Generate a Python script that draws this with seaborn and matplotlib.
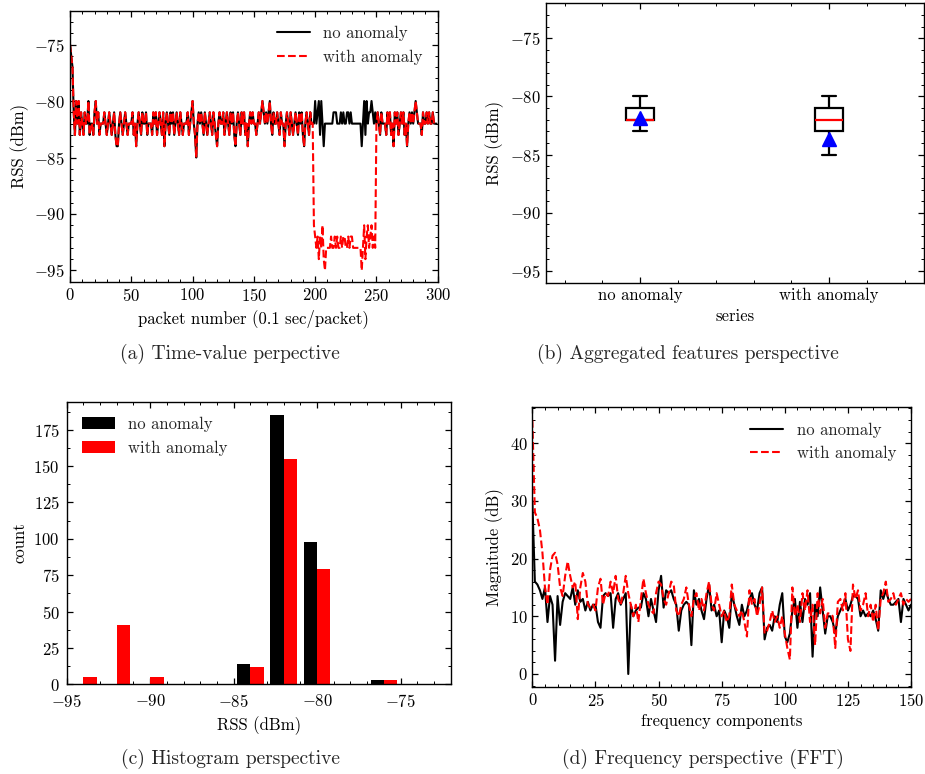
import numpy as np
import pandas as pd
import matplotlib
matplotlib.use("Agg")
import matplotlib.pyplot as plt
from matplotlib.ticker import MultipleLocator, AutoMinorLocator
import seaborn as sns

# ---------------------------------------------------------------------------
# RSS trace (dBm), one value per packet, link without anomaly
# ---------------------------------------------------------------------------
rss_no_anomaly = [
    -75, -76, -77, -81, -83, -80, -82, -80, -83, -81,
    -82, -83, -81, -82, -82, -80, -83, -82, -82, -83,
    -81, -80, -82, -81, -83, -82, -82, -82, -81, -82,
    -83, -82, -81, -82, -83, -82, -81, -83, -84, -84,
    -82, -81, -82, -83, -82, -81, -82, -83, -82, -82,
    -82, -81, -83, -82, -84, -82, -81, -82, -83, -81,
    -82, -82, -81, -83, -82, -82, -82, -83, -81, -82,
    -81, -83, -82, -81, -82, -83, -81, -84, -82, -81,
    -82, -83, -81, -82, -81, -83, -82, -81, -82, -83,
    -81, -82, -83, -82, -82, -82, -81, -83, -82, -81,
    -80, -82, -83, -85, -82, -81, -82, -81, -82, -83,
    -81, -82, -83, -82, -81, -82, -83, -81, -82, -83,
    -84, -82, -81, -82, -82, -81, -83, -82, -81, -82,
    -83, -81, -82, -81, -83, -84, -82, -81, -82, -83,
    -81, -82, -81, -83, -82, -84, -82, -81, -82, -81,
    -82, -82, -83, -82, -81, -82, -81, -80, -81, -82,
    -81, -82, -81, -80, -82, -83, -81, -82, -82, -81,
    -82, -83, -81, -82, -82, -84, -82, -81, -82, -83,
    -81, -82, -83, -82, -81, -82, -83, -81, -82, -81,
    -83, -84, -82, -81, -82, -83, -81, -82, -82, -82,
    -80, -82, -81, -80, -83, -80, -82, -84, -82, -82,
    -82, -82, -82, -82, -82, -81, -81, -81, -82, -82,
    -82, -81, -82, -81, -82, -82, -81, -81, -82, -81,
    -82, -82, -82, -82, -82, -82, -82, -82, -84, -82,
    -80, -83, -80, -82, -81, -81, -80, -81, -82, -81,
    -82, -81, -82, -83, -81, -82, -82, -82, -83, -81,
    -82, -81, -83, -82, -84, -81, -82, -81, -83, -82,
    -81, -82, -81, -83, -82, -84, -82, -81, -82, -81,
    -82, -81, -80, -81, -82, -82, -82, -83, -81, -82,
    -82, -81, -82, -81, -82, -82, -81, -82, -82, -82,
]

# RSS during the obstruction (packets 199-249) on the anomalous link
anomaly_start = 199
rss_anomaly_segment = [
    -91, -92, -93, -92, -94, -92, -93, -91, -94, -95,
    -93, -93, -93, -93, -92, -93, -93, -92, -93, -92,
    -93, -93, -92, -93, -92, -92, -93, -93, -92, -93,
    -92, -92, -93, -93, -93, -93, -93, -93, -93, -95,
    -93, -91, -94, -92, -91, -93, -92, -91, -93, -92,
    -93,
]

rss_with_anomaly = list(rss_no_anomaly)
rss_with_anomaly[anomaly_start:anomaly_start + len(rss_anomaly_segment)] = rss_anomaly_segment
packet = np.arange(len(rss_no_anomaly))

# ---------------------------------------------------------------------------
# Histogram counts per 2 dBm bin
# ---------------------------------------------------------------------------
bin_edges = [-95, -93, -91, -89, -87, -85, -83, -81, -79, -77, -75]
bin_centers = [-94, -92, -90, -88, -86, -84, -82, -80, -78, -76]
count_no_anomaly = [0, 0, 0, 0, 0, 14, 185, 98, 0, 3]
count_with_anomaly = [5, 41, 5, 0, 0, 12, 155, 79, 0, 3]

# ---------------------------------------------------------------------------
# FFT magnitude (dB) per frequency component 0..150
# ---------------------------------------------------------------------------
fft_no_anomaly = [
    30, 16, 15.5, 14.5, 13, 15, 9, 13.5, 12, 2.3,
    13.5, 8.5, 12.5, 14, 13.5, 13, 15, 12, 14.5, 12.5,
    13, 11, 12.5, 11, 12, 12, 9, 8, 13.5, 14,
    13.5, 14, 8, 13, 14, 12, 13, 14, 0, 12,
    10, 11, 11.5, 11.5, 14, 13, 10, 13, 11, 9,
    14.5, 17, 11.5, 14.5, 14, 14.5, 13, 12, 7.5, 11,
    12, 12.5, 12, 5, 14.5, 12, 13, 11, 9.5, 13,
    15.5, 11, 12, 10, 11, 5.5, 11, 10, 8, 14,
    12, 10, 8.5, 12, 10, 11, 13, 14, 12, 11,
    14, 15, 6, 8, 8.5, 7.5, 10, 9, 12, 14,
    6.5, 5.5, 7, 11, 13, 8, 12.5, 9, 13, 12,
    14, 3, 12, 10, 15, 11, 7, 10, 10, 9,
    7, 10, 11, 12, 13, 11, 12, 13.5, 13.5, 13,
    10, 11, 10, 10.5, 10, 11, 9.5, 7.5, 14.5, 13,
    14.5, 13, 12, 12, 12.5, 13, 9, 13, 12, 11,
    12,
]
fft_with_anomaly = [
    44, 28, 27, 25, 21, 15, 12, 18, 20.5, 21,
    19, 15, 13.5, 17, 19.5, 17, 15, 16, 9.5, 15,
    17.5, 16, 12, 11.5, 12, 11, 15, 16.5, 12, 14,
    13.5, 16, 14, 17, 13, 12, 14, 17, 14, 12,
    10, 12, 9, 13, 16.5, 14, 12, 11, 10.5, 14,
    16, 15.5, 13, 12, 14, 16, 15.5, 11, 10, 12,
    13, 15, 12, 10, 13, 14, 11, 13, 11, 14,
    16, 12, 11, 14, 12, 10, 11, 9, 10, 15.5,
    12, 11, 10, 11, 9, 6.5, 14.5, 12, 13, 10,
    12, 15, 7, 7.5, 9, 11, 9, 10, 8, 10,
    7, 4.5, 2.5, 15, 10, 12, 9, 14, 11, 14.5,
    9, 12, 5, 14, 10.5, 13, 8, 10.5, 10.5, 10,
    4.5, 12.5, 13, 11, 14, 6, 4, 15.5, 13, 14.5,
    11, 12, 14, 10, 12, 9, 12, 7.5, 13, 14,
    16, 12.5, 13, 14, 12, 13, 14, 12, 13, 12.5,
    13,
]
freq = np.arange(len(fft_no_anomaly))

series_names = ["no anomaly", "with anomaly"]
series_colors = ["black", "red"]

# ---------------------------------------------------------------------------
# Style
# ---------------------------------------------------------------------------
sns.set_theme(style="ticks")
plt.rcParams.update({
    "font.family": "serif",
    "font.serif": ["cmr10"],
    "mathtext.fontset": "cm",
    "axes.formatter.use_mathtext": True,
    "axes.unicode_minus": True,
    "font.size": 12,
    "axes.labelsize": 12,
    "xtick.labelsize": 12,
    "ytick.labelsize": 12,
    "legend.fontsize": 12,
    "axes.linewidth": 1.0,
    "axes.edgecolor": "black",
    "axes.labelcolor": "black",
    "xtick.color": "black",
    "ytick.color": "black",
    "xtick.direction": "in",
    "ytick.direction": "in",
    "xtick.top": True,
    "ytick.right": True,
    "xtick.minor.visible": True,
    "ytick.minor.visible": True,
    "xtick.major.size": 4.5,
    "ytick.major.size": 4.5,
    "xtick.minor.size": 2.3,
    "ytick.minor.size": 2.3,
    "xtick.major.width": 0.9,
    "ytick.major.width": 0.9,
    "xtick.minor.width": 0.7,
    "ytick.minor.width": 0.7,
    "legend.frameon": False,
})

fig = plt.figure(figsize=(9.25, 7.74), dpi=100)
ax_a = fig.add_axes([0.0757, 0.6360, 0.3975, 0.3502])
ax_b = fig.add_axes([0.5900, 0.6348, 0.4085, 0.3609])
ax_c = fig.add_axes([0.0721, 0.1159, 0.4151, 0.3651])
ax_d = fig.add_axes([0.5755, 0.1128, 0.4094, 0.3610])

line_w = 1.5

# (a) time series
sns.lineplot(x=packet, y=rss_no_anomaly, color="black", lw=line_w,
             label="no anomaly", ax=ax_a)
sns.lineplot(x=packet, y=rss_with_anomaly, color="red", lw=line_w,
             linestyle="--", label="with anomaly", ax=ax_a)
ax_a.set_xlim(0, 300)
ax_a.set_ylim(-96, -72)
ax_a.set_xlabel("packet number (0.1 sec/packet)")
ax_a.set_ylabel("RSS (dBm)")
ax_a.xaxis.set_major_locator(MultipleLocator(50))
ax_a.xaxis.set_minor_locator(MultipleLocator(10))
ax_a.yaxis.set_major_locator(MultipleLocator(5))
ax_a.yaxis.set_minor_locator(MultipleLocator(1))
ax_a.legend(loc="upper right", frameon=False)

# (b) box plots
box_df = pd.DataFrame({
    "series": [series_names[0]] * len(rss_no_anomaly) + [series_names[1]] * len(rss_with_anomaly),
    "rss": list(rss_no_anomaly) + list(rss_with_anomaly),
})
sns.boxplot(data=box_df, x="series", y="rss", order=series_names, width=0.15,
            color="white", linecolor="black", linewidth=1.6, showfliers=False,
            showmeans=True,
            meanprops=dict(marker="^", markerfacecolor="blue",
                           markeredgecolor="blue", markersize=10),
            medianprops=dict(color="red", linewidth=1.6),
            ax=ax_b)
ax_b.set_xlim(-0.5, 1.5)
ax_b.set_ylim(-96, -72)
ax_b.set_xlabel("series")
ax_b.set_ylabel("RSS (dBm)")
ax_b.xaxis.set_minor_locator(MultipleLocator(0.2))
ax_b.yaxis.set_major_locator(MultipleLocator(5))
ax_b.yaxis.set_minor_locator(MultipleLocator(1))

# (c) histogram
hist_df = pd.DataFrame({
    "rss": bin_centers * 2,
    "count": count_no_anomaly + count_with_anomaly,
    "series": [series_names[0]] * len(bin_centers) + [series_names[1]] * len(bin_centers),
})
sns.histplot(data=hist_df, x="rss", weights="count", hue="series",
             hue_order=series_names, palette=series_colors, bins=bin_edges,
             multiple="dodge", shrink=0.8, alpha=1, linewidth=0, ax=ax_c)
ax_c.set_xlim(-95, -72)
ax_c.set_ylim(0, 194.25)
ax_c.set_xlabel("RSS (dBm)")
ax_c.set_ylabel("count")
ax_c.xaxis.set_major_locator(MultipleLocator(5))
ax_c.xaxis.set_minor_locator(MultipleLocator(1))
ax_c.yaxis.set_major_locator(MultipleLocator(25))
ax_c.yaxis.set_minor_locator(AutoMinorLocator(2))
ax_c.tick_params(axis="x", which="major", pad=6.5)
ax_c.tick_params(axis="y", which="major", pad=5)
sns.move_legend(ax_c, "upper left", title=None, frameon=False)

# (d) FFT magnitude
sns.lineplot(x=freq, y=fft_no_anomaly, color="black", lw=line_w,
             label="no anomaly", ax=ax_d)
sns.lineplot(x=freq, y=fft_with_anomaly, color="red", lw=line_w,
             linestyle="--", label="with anomaly", ax=ax_d)
ax_d.set_xlim(0, 150)
ax_d.set_ylim(-2.2, 46.2)
ax_d.set_xlabel("frequency components")
ax_d.set_ylabel("Magnitude (dB)")
ax_d.xaxis.set_major_locator(MultipleLocator(25))
ax_d.xaxis.set_minor_locator(MultipleLocator(5))
ax_d.yaxis.set_major_locator(MultipleLocator(10))
ax_d.yaxis.set_minor_locator(MultipleLocator(2))
ax_d.legend(loc="upper right", frameon=False)

for ax in (ax_a, ax_b, ax_c, ax_d):
    for side in ("top", "right", "bottom", "left"):
        ax.spines[side].set_visible(True)
        ax.spines[side].set_color("black")
    ax.tick_params(which="both", top=True, right=True, direction="in")

# Sub-figure captions
caption_size = 14
fig.text(0.2486, 0.5426, "(a) Time-value perpective", ha="center", va="center", fontsize=caption_size)
fig.text(0.7432, 0.5426, "(b) Aggregated features perspective", ha="center", va="center", fontsize=caption_size)
fig.text(0.2486, 0.0194, "(c) Histogram perspective", ha="center", va="center", fontsize=caption_size)
fig.text(0.7600, 0.0194, "(d) Frequency perspective (FFT)", ha="center", va="center", fontsize=caption_size)

fig.savefig("out.png", dpi=100)
